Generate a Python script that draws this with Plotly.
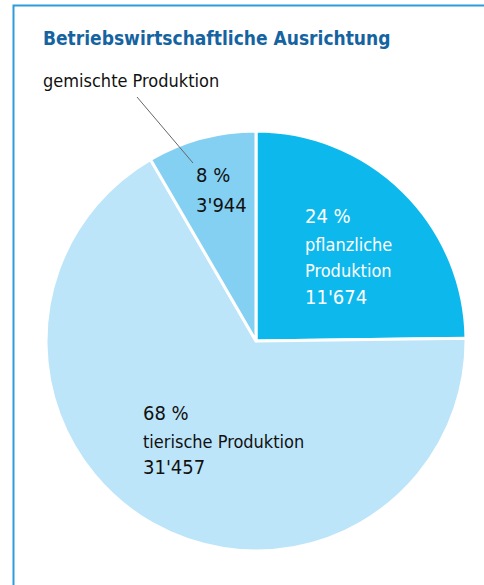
import plotly.graph_objects as go

# ---- data ----
categories = ["pflanzliche Produktion", "tierische Produktion", "gemischte Produktion"]
values = [11674, 31457, 3944]
percent_labels = ["24 %", "68 %", "8 %"]
value_labels = ["11'674", "31'457", "3'944"]
title_text = "Betriebswirtschaftliche Ausrichtung"

colors = ["#0DB9EC", "#BDE5F9", "#84D0F3"]

W, H = 484, 585
FONT = "DejaVu Sans Condensed, sans-serif"


def px(x):
    return x / W


def py(y):
    return 1 - y / H


cx, cy, r = 256, 341, 210

fig = go.Figure(
    go.Pie(
        labels=categories,
        values=values,
        sort=False,
        direction="clockwise",
        rotation=0,
        marker=dict(colors=colors, line=dict(color="white", width=3)),
        textinfo="none",
        hoverinfo="label+value+percent",
        showlegend=False,
        domain=dict(x=[px(cx - r), px(cx + r)], y=[py(cy + r), py(cy - r)]),
    )
)

annotations = []


def add_line(text, x, y, size, color, bold=False):
    annotations.append(
        dict(
            text=f"<b>{text}</b>" if bold else text,
            x=px(x), y=py(y), xref="paper", yref="paper",
            xanchor="left", yanchor="middle", showarrow=False,
            font=dict(family=FONT, size=size, color=color),
        )
    )


# title
add_line(title_text, 41, 38, 19, "#1563A0", bold=True)

# pflanzliche (inside, white)
add_line(percent_labels[0], 303, 216, 20, "white")
add_line("pflanzliche", 303, 244, 18, "white")
add_line("Produktion", 303, 270, 18, "white")
add_line(value_labels[0], 303, 297, 20, "white")

# tierische
add_line(percent_labels[1], 141, 413, 20, "#111111")
add_line(categories[1], 141, 441, 18, "#111111")
add_line(value_labels[1], 141, 467, 20, "#111111")

# gemischte
add_line(percent_labels[2], 194, 175, 20, "#111111")
add_line(value_labels[2], 194, 205, 20, "#111111")
add_line(categories[2], 41, 81, 18, "#111111")

frame_path = f"M {px(13.5)},0 L {px(13.5)},{py(5.5)} L 1.01,{py(5.5)}"

shapes = [
    # leader line
    dict(type="line", xref="paper", yref="paper",
         x0=px(137), y0=py(97), x1=px(193), y1=py(163),
         line=dict(color="#666666", width=1)),
    # frame (left and top edges only)
    dict(type="path", xref="paper", yref="paper", path=frame_path,
         line=dict(color="#2F9BD9", width=2)),
]

fig.update_layout(
    width=W, height=H,
    margin=dict(l=0, r=0, t=0, b=0),
    paper_bgcolor="white",
    plot_bgcolor="white",
    annotations=annotations,
    shapes=shapes,
)

fig.write_html(
    "out.html",
    config={"displayModeBar": False},
    post_script=(
        "var s=document.createElement('style');"
        "s.textContent='html,body{margin:0;padding:0;overflow:hidden;scrollbar-width:none;}"
        "::-webkit-scrollbar{display:none;width:0;height:0;}';"
        "document.head.appendChild(s);"
    ),
)
